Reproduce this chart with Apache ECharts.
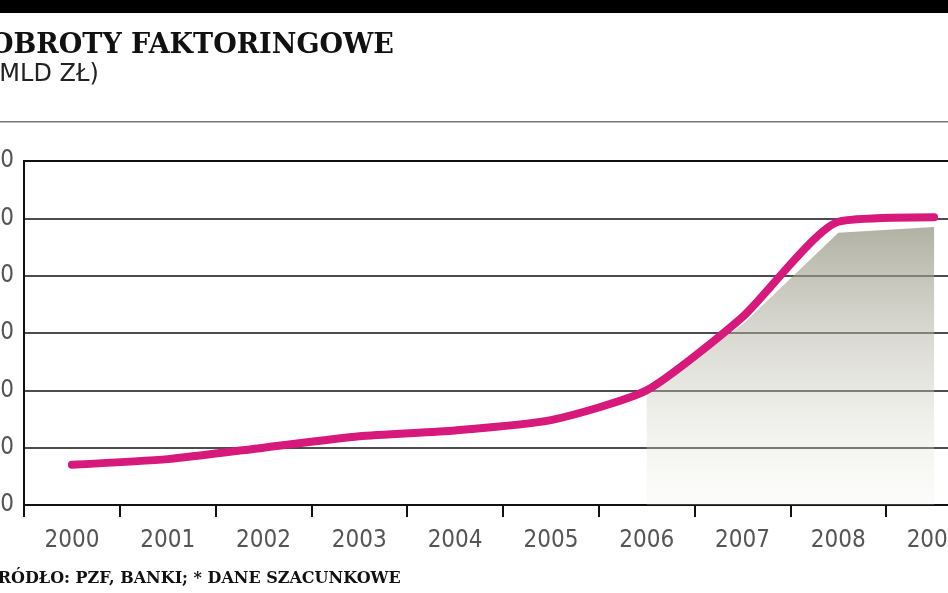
<!DOCTYPE html><html><head><meta charset="utf-8"><script src="https://cdn.jsdelivr.net/npm/echarts@6/dist/echarts.min.js"></script>
<style>html,body{margin:0;padding:0;background:#fff}#c{width:948px;height:593px}</style></head><body><div id="c"></div><script>
const years=['2000','2001','2002','2003','2004','2005','2006','2007','2008','2009'];
const turnover=[7,8,10,12,13,14.8,20,32.8,49.4,50.2];
const shaded=[null,null,null,null,null,null,20,31.5,47.5,48.5];
const yTicks=[0,10,20,30,40,50,60];
const chart=echarts.init(document.getElementById('c'));
chart.setOption({
 animation:false,
 graphic:[
  {type:'rect',shape:{x:0,y:0,width:948,height:13},style:{fill:'#000'}},
  {type:'rect',shape:{x:0,y:121,width:948,height:1.5},style:{fill:'#777'}},
  {type:'text',left:-10,top:32,style:{text:'OBROTY FAKTORINGOWE',font:'bold 27px "DejaVu Serif"',fill:'#111'}},
  {type:'text',left:-10,top:63,style:{text:'(MLD ZŁ)',font:'24px "DejaVu Sans"',fill:'#222'}},
  {type:'text',left:-14,top:571,style:{text:'ŹRÓDŁO: PZF, BANKI; * DANE SZACUNKOWE',font:'bold 16px "DejaVu Serif"',fill:'#111'}},
  {type:'rect',shape:{x:24,y:161,width:940,height:344},style:{fill:'none',stroke:'#111',lineWidth:2}}
 ],
 grid:{left:24,right:-34,top:161,bottom:88,outerBoundsMode:'none',containLabel:false},
 xAxis:{type:'category',data:years,boundaryGap:true,
  axisLine:{lineStyle:{color:'#111',width:2}},
  axisTick:{show:true,length:12,inside:false,lineStyle:{color:'#111',width:2}},
  axisLabel:{color:'#555',fontFamily:'"DejaVu Sans Condensed"',fontSize:24,margin:24}},
 yAxis:{type:'value',min:yTicks[0],max:yTicks[yTicks.length-1],interval:10,
  axisLine:{show:true,lineStyle:{color:'#111',width:2}},axisTick:{show:false},
  splitLine:{lineStyle:{color:'#111',width:1.5}},
  axisLabel:{color:'#555',fontSize:24,margin:10,fontFamily:'"DejaVu Sans Condensed"'}},
 series:[
  {type:'line',data:shaded,symbol:'none',lineStyle:{width:0},
   areaStyle:{color:new echarts.graphic.LinearGradient(0,0,0,1,[{offset:0,color:'#8f8f7c'},{offset:1,color:'rgba(240,240,232,0.3)'}])}},
  {type:'line',data:turnover,symbol:'none',smooth:0.2,lineStyle:{color:'#d6197a',width:8,cap:'round'}}
 ]
});
</script></body></html>
